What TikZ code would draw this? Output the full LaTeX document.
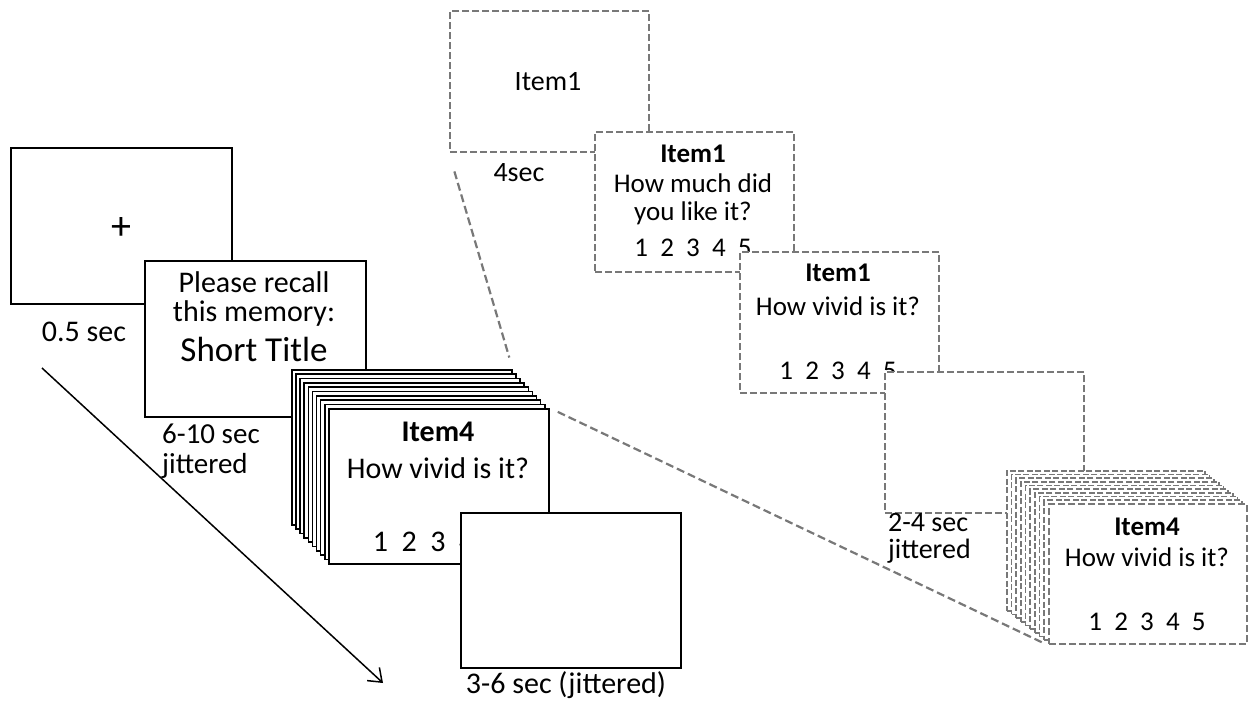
\documentclass[tikz,border=0pt]{standalone}
\usepackage{fontspec}
\setmainfont{Carlito}
\usetikzlibrary{arrows.meta}
\definecolor{dgray}{RGB}{120,120,120}
\begin{document}
\begin{tikzpicture}[x=1pt,y=-1pt,
  solidbox/.style={draw=black,line width=1.8pt,fill=white,minimum width=221pt,minimum height=156pt,inner sep=0pt,anchor=north west},
  stackbox/.style={draw=black,line width=1.6pt,fill=white,minimum width=220pt,minimum height=155pt,inner sep=0pt,anchor=north west},
  dashbox/.style={draw=dgray,line width=2.2pt,dash pattern=on 7pt off 3pt,fill=white,minimum width=199pt,minimum height=141pt,inner sep=0pt,anchor=north west},
  bigtxt/.style={font=\fontsize{30}{36}\selectfont,inner sep=0pt},
  smalltxt/.style={font=\fontsize{27}{32}\selectfont,inner sep=0pt},
  zoomline/.style={draw=dgray,line width=2.2pt,dash pattern=on 8pt off 4pt}]
\useasboundingbox (0,0) rectangle (1250,704);

% ---------- left sequence ----------
\node[solidbox] (A) at (10,147) {};
\node[font=\fontsize{40}{44}\selectfont,inner sep=0pt] (plus) at (121,229) {+};
\node[bigtxt] (tA) at (84,332) {0.5 sec};

\node[solidbox] (B) at (144,260) {};
\node[bigtxt] (b1) at (254,282) {Please recall};
\node[bigtxt] (b2) at (254,313) {this memory:};
\node[font=\fontsize{35}{40}\selectfont,inner sep=0pt] (b3) at (254,349) {Short Title};
\node[font=\fontsize{29}{34}\selectfont,inner sep=0pt,anchor=west] (tB1) at (162,434) {6-10 sec};
\node[font=\fontsize{29}{34}\selectfont,inner sep=0pt,anchor=west] (tB2) at (162,466) {jittered};

\foreach \i in {9,...,1}{
  \node[stackbox] (C\i) at ({328-4.1*\i},{408-4.33*\i}) {};
}
\node[stackbox] (C) at (328,408) {};
\node[bigtxt,font=\fontsize{30}{36}\selectfont\bfseries] (c1) at (438,432) {Item4};
\node[bigtxt] (c2) at (438,468) {How vivid is it?};
\node[bigtxt] (c3) at (438,542) {1\ \ 2\ \ 3\ \ 4\ \ 5};

\node[solidbox,minimum width=220pt,minimum height=155pt] (D) at (460,512) {};
\node[bigtxt] (tD) at (566,685) {3-6 sec (jittered)};

\coordinate (arrS) at (42,368);
\coordinate (arrE) at (383,683);
\draw[line width=1.5pt,-{Straight Barb[length=12pt,width=18pt,line width=1.5pt]}] (arrS) -- (arrE);

% ---------- right sequence ----------
\node[dashbox] (E) at (449,10) {};
\node[font=\fontsize{28}{34}\selectfont,inner sep=0pt] (e1) at (548,82) {Item1};
\node[font=\fontsize{28}{34}\selectfont,inner sep=0pt] (tE) at (519,173) {4sec};

\node[dashbox,minimum height=140pt] (F) at (594,131) {};
\node[smalltxt,font=\fontsize{27}{32}\selectfont\bfseries] (f1) at (693,154) {Item1};
\node[smalltxt] (f2) at (693,183) {How much did};
\node[smalltxt] (f3) at (693,213) {you like it?};
\node[smalltxt] (f4) at (693,248) {1\ \ 2\ \ 3\ \ 4\ \ 5};

\node[dashbox] (G) at (739,251) {};
\node[smalltxt,font=\fontsize{27}{32}\selectfont\bfseries] (g1) at (838,273) {Item1};
\node[smalltxt] (g2) at (838,306) {How vivid is it?};
\node[smalltxt] (g3) at (838,371) {1\ \ 2\ \ 3\ \ 4\ \ 5};

\node[dashbox] (H) at (884,371) {};
\node[font=\fontsize{28}{34}\selectfont,inner sep=0pt,anchor=west] (tH1) at (888,523) {2-4 sec};
\node[font=\fontsize{28}{34}\selectfont,inner sep=0pt,anchor=west] (tH2) at (888,551) {jittered};

\foreach \i in {9,...,1}{
  \node[dashbox,minimum width=198pt,minimum height=140pt,line width=1.7pt,dash pattern=on 6pt off 2.5pt] (I\i) at ({1048-4.67*\i},{503-3.67*\i}) {};
}
\node[dashbox,minimum width=198pt,minimum height=140pt] (I) at (1048,503) {};
\node[smalltxt,font=\fontsize{27}{32}\selectfont\bfseries] (i1) at (1147,527) {Item4};
\node[smalltxt] (i2) at (1147,557) {How vivid is it?};
\node[smalltxt] (i3) at (1147,622) {1\ \ 2\ \ 3\ \ 4\ \ 5};

% ---------- zoom lines ----------
\draw[zoomline,shorten <=19pt,shorten >=12pt] (E.south west) -- (C9.north east);
\draw[zoomline,shorten <=9pt,shorten >=3pt] (C.north east) -- (I.south west);
\end{tikzpicture}
\end{document}
